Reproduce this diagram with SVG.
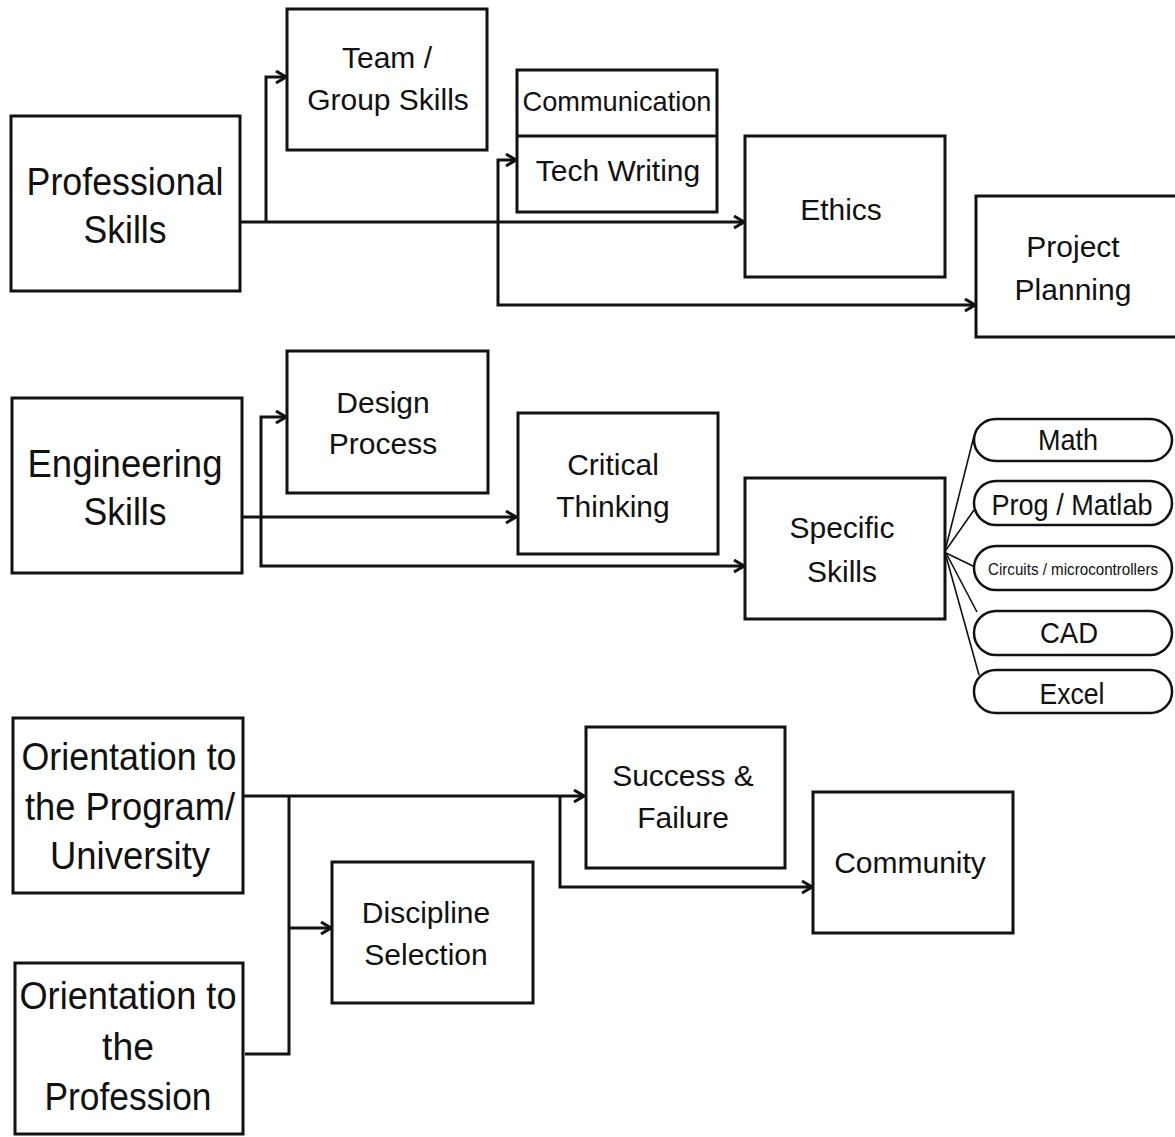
<svg xmlns="http://www.w3.org/2000/svg" width="1175" height="1137" viewBox="0 0 1175 1137">
  <defs>
    <marker id="arrow" viewBox="0 0 12 14" markerWidth="12" markerHeight="14" refX="11" refY="7" orient="auto" markerUnits="userSpaceOnUse">
      <path d="M1,1 L11,7 L1,13" fill="none" stroke="#111" stroke-width="3"/>
    </marker>
  </defs>
  <style>
    .box { fill: #fff; stroke: #111; stroke-width: 3; }
    .pill { fill: #fff; stroke: #111; stroke-width: 2.5; }
    .conn { fill: none; stroke: #111; stroke-width: 3; }
    .fan { fill: none; stroke: #111; stroke-width: 1.6; }
    text { font-family: "Liberation Sans", Arial, sans-serif; fill: #111; text-anchor: middle; }
    .big { font-size: 39px; }
    .mid { font-size: 30px; }
    .pt { font-size: 29px; }
    .small { font-size: 17px; }
  </style>
  <rect width="1175" height="1137" fill="#fff"/>

  <!-- connectors -->
  <g id="connectors">
    <!-- professional skills -->
    <path class="conn" d="M240,222 H744" marker-end="url(#arrow)"/>
    <path class="conn" d="M266,222 V77 H286" marker-end="url(#arrow)"/>
    <path class="conn" d="M498,222 V160 H516" marker-end="url(#arrow)"/>
    <path class="conn" d="M498,222 V305 H975" marker-end="url(#arrow)"/>
    <!-- engineering skills -->
    <path class="conn" d="M242,517 H516" marker-end="url(#arrow)"/>
    <path class="conn" d="M261,517 V417 H286" marker-end="url(#arrow)"/>
    <path class="conn" d="M261,517 V566 H744" marker-end="url(#arrow)"/>
    <!-- specific skills fan -->
    <path class="fan" d="M946,547 L974,436"/>
    <path class="fan" d="M946,550 L974,510"/>
    <path class="fan" d="M946,553 L975,567"/>
    <path class="fan" d="M946,553 L977,612"/>
    <path class="fan" d="M946,556 L979,675"/>
    <!-- orientation -->
    <path class="conn" d="M243,796 H584" marker-end="url(#arrow)"/>
    <path class="conn" d="M289,796 V1054 H245"/>
    <path class="conn" d="M289,928 H331" marker-end="url(#arrow)"/>
    <path class="conn" d="M560,796 V887 H812" marker-end="url(#arrow)"/>
  </g>

  <g id="professional-skills">
    <rect class="box" x="11" y="116" width="229" height="175"/>
    <text class="big" x="125" y="195" textLength="197" lengthAdjust="spacingAndGlyphs">Professional</text>
    <text class="big" x="125" y="243" textLength="83" lengthAdjust="spacingAndGlyphs">Skills</text>
  </g>
  <g id="team-skills">
    <rect class="box" x="287" y="9" width="200" height="141"/>
    <text class="mid" x="387" y="68">Team /</text>
    <text class="mid" x="388" y="110">Group Skills</text>
  </g>
  <g id="communication">
    <rect class="box" x="517" y="70" width="200" height="142"/>
    <line x1="517" y1="136" x2="717" y2="136" stroke="#111" stroke-width="3"/>
    <text x="617" y="111" font-size="28" textLength="189" lengthAdjust="spacingAndGlyphs">Communication</text>
    <text class="mid" x="618" y="181">Tech Writing</text>
  </g>
  <g id="ethics">
    <rect class="box" x="745" y="136" width="200" height="141"/>
    <text class="mid" x="841" y="220">Ethics</text>
  </g>
  <g id="project-planning">
    <rect class="box" x="976" y="196" width="202" height="141"/>
    <text class="mid" x="1073" y="257">Project</text>
    <text class="mid" x="1073" y="300">Planning</text>
  </g>

  <g id="engineering-skills">
    <rect class="box" x="12" y="398" width="230" height="175"/>
    <text class="big" x="125" y="477" textLength="195" lengthAdjust="spacingAndGlyphs">Engineering</text>
    <text class="big" x="125" y="525" textLength="83" lengthAdjust="spacingAndGlyphs">Skills</text>
  </g>
  <g id="design-process">
    <rect class="box" x="287" y="351" width="201" height="142"/>
    <text class="mid" x="383" y="413">Design</text>
    <text class="mid" x="383" y="454">Process</text>
  </g>
  <g id="critical-thinking">
    <rect class="box" x="518" y="413" width="200" height="141"/>
    <text class="mid" x="613" y="475">Critical</text>
    <text class="mid" x="613" y="517">Thinking</text>
  </g>
  <g id="specific-skills">
    <rect class="box" x="745" y="478" width="200" height="141"/>
    <text class="mid" x="842" y="538">Specific</text>
    <text class="mid" x="842" y="582">Skills</text>
  </g>
  <g id="math">
    <rect class="pill" x="974" y="419" width="198" height="42" rx="22" ry="21"/>
    <text class="pt" x="1068" y="450" textLength="60" lengthAdjust="spacingAndGlyphs">Math</text>
  </g>
  <g id="prog-matlab">
    <rect class="pill" x="974" y="481" width="198" height="44" rx="22" ry="22"/>
    <text class="pt" x="1072" y="515" textLength="161" lengthAdjust="spacingAndGlyphs">Prog / Matlab</text>
  </g>
  <g id="circuits">
    <rect class="pill" x="974" y="546" width="198" height="44" rx="22" ry="22"/>
    <text class="small" x="1073" y="575" textLength="170" lengthAdjust="spacingAndGlyphs">Circuits / microcontrollers</text>
  </g>
  <g id="cad">
    <rect class="pill" x="974" y="611" width="198" height="44" rx="22" ry="22"/>
    <text class="pt" x="1069" y="643" textLength="58" lengthAdjust="spacingAndGlyphs">CAD</text>
  </g>
  <g id="excel">
    <rect class="pill" x="974" y="670" width="198" height="43" rx="22" ry="21"/>
    <text class="pt" x="1072" y="704" textLength="65" lengthAdjust="spacingAndGlyphs">Excel</text>
  </g>

  <g id="orientation-program">
    <rect class="box" x="13" y="718" width="230" height="175"/>
    <text class="big" x="129" y="770" textLength="215" lengthAdjust="spacingAndGlyphs">Orientation to</text>
    <text class="big" x="130" y="820" textLength="210" lengthAdjust="spacingAndGlyphs">the Program/</text>
    <text class="big" x="130" y="869" textLength="160" lengthAdjust="spacingAndGlyphs">University</text>
  </g>
  <g id="orientation-profession">
    <rect class="box" x="15" y="963" width="228" height="171"/>
    <text class="big" x="128" y="1009" textLength="217" lengthAdjust="spacingAndGlyphs">Orientation to</text>
    <text class="big" x="128" y="1060" textLength="52" lengthAdjust="spacingAndGlyphs">the</text>
    <text class="big" x="128" y="1110" textLength="167" lengthAdjust="spacingAndGlyphs">Profession</text>
  </g>
  <g id="discipline-selection">
    <rect class="box" x="332" y="862" width="201" height="141"/>
    <text class="mid" x="426" y="923">Discipline</text>
    <text class="mid" x="426" y="965">Selection</text>
  </g>
  <g id="success-failure">
    <rect class="box" x="586" y="727" width="199" height="141"/>
    <text class="mid" x="683" y="786">Success &amp;</text>
    <text class="mid" x="683" y="828">Failure</text>
  </g>
  <g id="community">
    <rect class="box" x="813" y="792" width="200" height="141"/>
    <text class="mid" x="910" y="873">Community</text>
  </g>
</svg>
